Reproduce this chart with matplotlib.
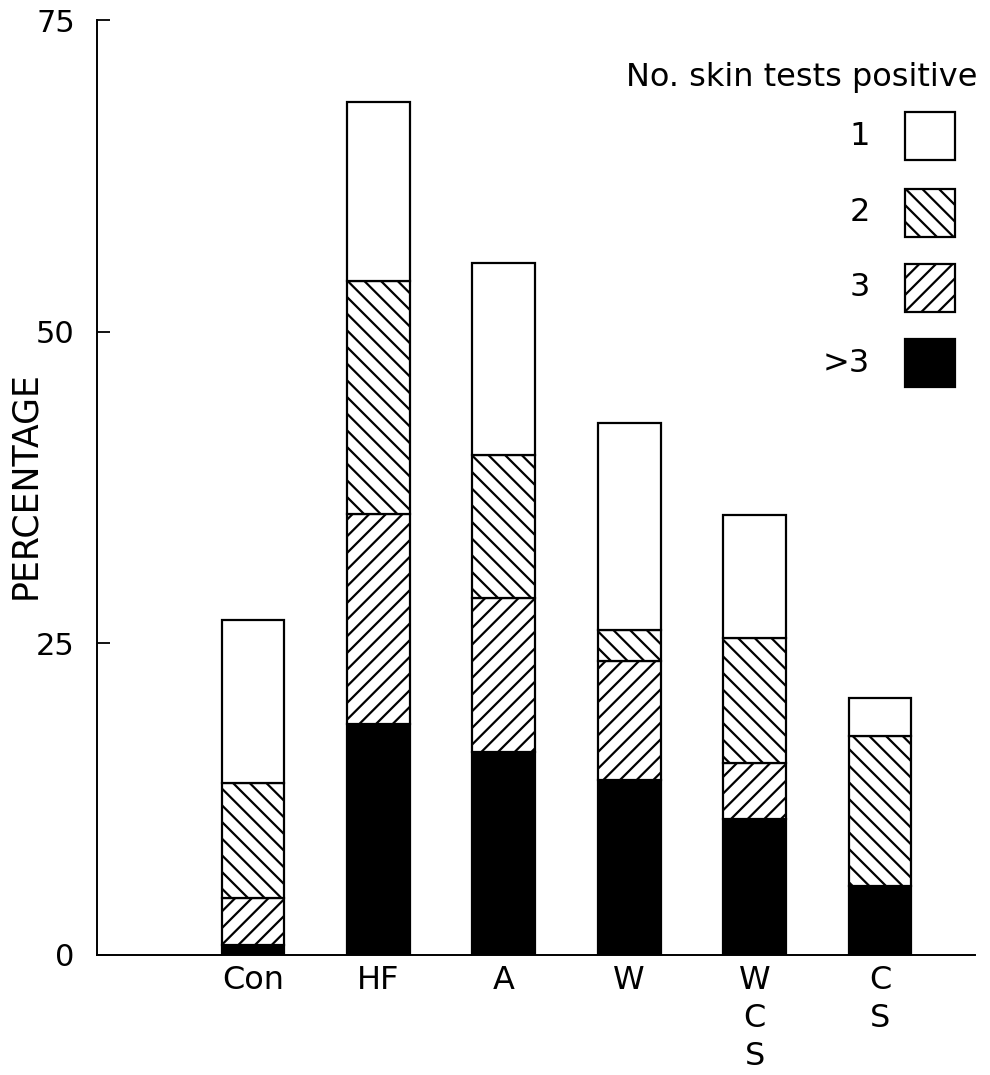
import matplotlib
matplotlib.use("Agg")
import matplotlib.pyplot as plt
import numpy as np
from matplotlib.patches import Rectangle

categories = ['Con', 'HF', 'A', 'W', 'W\nC\nS', 'C\nS']
gt3 = [0.8, 18.5, 16.3, 14.0, 10.9, 5.5]
three = [3.8, 16.9, 12.3, 9.6, 4.5, 0.0]
two = [9.2, 18.7, 11.5, 2.5, 10.0, 12.1]
one = [13.1, 14.3, 15.4, 16.6, 9.9, 3.0]
series_labels = ['1', '2', '3', '>3']
yticks = [0, 25, 50, 75]
ytick_labels = ['0', '25', '50', '75']

plt.rcParams['font.family'] = ['DejaVu Sans']
plt.rcParams['hatch.linewidth'] = 1.6

fig = plt.figure(figsize=(9.9, 10.75), dpi=100)
ax = fig.add_axes([97/990, 1 - 955/1075, 878/990, 935/1075])

x = np.arange(len(categories))
w = 0.5
lw = 1.6
b0 = np.zeros(len(categories))
ax.bar(x, gt3, w, bottom=b0, color='black', edgecolor='black', linewidth=lw)
b1 = b0 + np.array(gt3)
ax.bar(x, three, w, bottom=b1, color='white', edgecolor='black', hatch='//', linewidth=lw)
b2 = b1 + np.array(three)
ax.bar(x, two, w, bottom=b2, color='white', edgecolor='black', hatch='\\\\', linewidth=lw)
b3 = b2 + np.array(two)
ax.bar(x, one, w, bottom=b3, color='white', edgecolor='black', linewidth=lw)

ax.set_xlim(-1.244, 5.758)
ax.set_ylim(0, 75)
ax.set_yticks(yticks)
ax.set_yticklabels(ytick_labels, fontsize=22)
ax.set_xticks(x)
ax.set_xticklabels(categories, fontsize=23, linespacing=1.3, va='top')
ax.tick_params(axis='x', length=0, pad=7)
ax.tick_params(axis='y', direction='in', length=9, width=1.3, pad=16)
for s in ['top', 'right']:
    ax.spines[s].set_visible(False)
for s in ['left', 'bottom']:
    ax.spines[s].set_linewidth(1.4)

ax.set_ylabel('PERCENTAGE', fontsize=25, va='center')
ax.yaxis.set_label_coords(-0.082, 0.503)

# legend drawn manually
ax.text(1.003, 0.938, 'No. skin tests positive', transform=ax.transAxes,
        ha='right', va='center', fontsize=23)
box_bottoms = [0.850, 0.768, 0.688, 0.6075]
styles = [dict(facecolor='white', hatch=None),
          dict(facecolor='white', hatch='\\\\'),
          dict(facecolor='white', hatch='//'),
          dict(facecolor='black', hatch=None)]
for lab, yb, st in zip(series_labels, box_bottoms, styles):
    r = Rectangle((0.920, yb), 0.057, 0.0513, transform=ax.transAxes,
                  edgecolor='black', linewidth=lw, clip_on=False, **st)
    ax.add_patch(r)
    ax.text(0.880, yb + 0.0256, lab, transform=ax.transAxes,
            ha='right', va='center', fontsize=23)

fig.savefig('out.png', dpi=100)
